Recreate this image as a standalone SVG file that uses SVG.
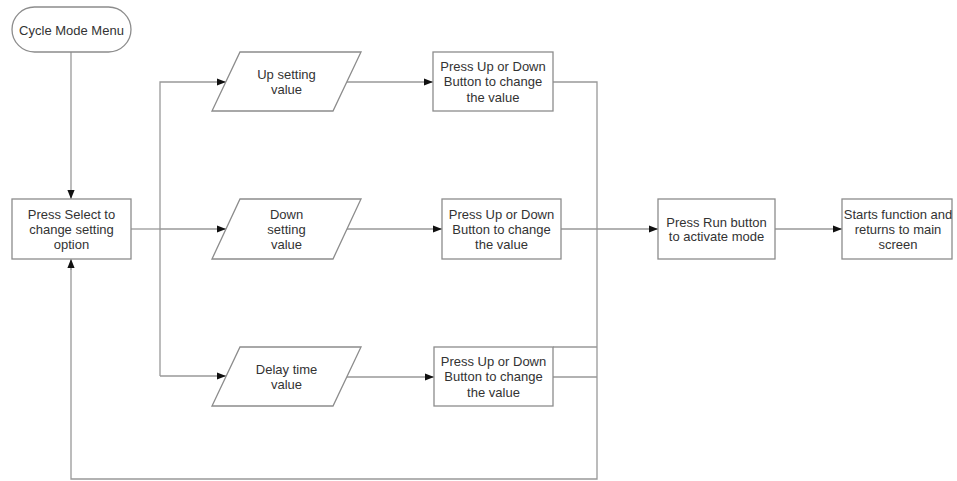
<svg xmlns="http://www.w3.org/2000/svg" width="957" height="481" viewBox="0 0 957 481">
<defs>
<style>
.shape{fill:#ffffff;stroke:#8c8c8c;stroke-width:1.3}
.conn{fill:none;stroke:#999999;stroke-width:1.3}
.arr{marker-end:url(#ah)}
text{font-family:"Liberation Sans",Arial,sans-serif;font-size:13px;fill:#333333;text-anchor:middle;dominant-baseline:central}
</style>
<marker id="ah" viewBox="0 0 10 10" refX="10" refY="5" markerWidth="9" markerHeight="9" markerUnits="userSpaceOnUse" orient="auto">
<path d="M0,1 L10,5 L0,9 z" fill="#111111"/>
</marker>
</defs>
<rect width="957" height="481" fill="#ffffff"/>
<g id="connectors">
<path class="conn arr" d="M71,52 V199"/>
<path class="conn" d="M131,229 H160"/>
<path class="conn arr" d="M160,229 H226"/>
<path class="conn arr" d="M160,376 V82 H226"/>
<path class="conn arr" d="M160,376 H226"/>
<path class="conn arr" d="M347,82 H433"/>
<path class="conn arr" d="M347,229 H442"/>
<path class="conn arr" d="M347,377 H434"/>
<path class="conn" d="M553,82 H597 V479 H71 V268"/>
<path class="conn arr" d="M71,270 V259"/>
<path class="conn arr" d="M561,229 H658"/>
<path class="conn" d="M553,347 H597"/>
<path class="conn" d="M553,377 H597"/>
<path class="conn arr" d="M775,229 H842"/>
</g>
<g id="n-cycle">
<rect class="shape" x="12" y="7" width="119" height="45" rx="22.5"/>
<text x="71.5" y="30">Cycle Mode Menu</text>
</g>
<g id="n-select">
<rect class="shape" x="12" y="199" width="119" height="60"/>
<text x="71.5" y="214">Press Select to</text>
<text x="71.5" y="229">change setting</text>
<text x="71.5" y="244">option</text>
</g>
<g id="n-up">
<polygon class="shape" points="240,52 361,52 333,111 212,111"/>
<text x="286.5" y="74">Up setting</text>
<text x="286.5" y="89">value</text>
</g>
<g id="n-down">
<polygon class="shape" points="240,199 361,199 333,259 212,259"/>
<text x="286.5" y="214">Down</text>
<text x="286.5" y="229">setting</text>
<text x="286.5" y="244">value</text>
</g>
<g id="n-delay">
<polygon class="shape" points="240,347 361,347 333,406 212,406"/>
<text x="286.5" y="369">Delay time</text>
<text x="286.5" y="384">value</text>
</g>
<g id="n-press1">
<rect class="shape" x="433" y="52" width="120" height="59"/>
<text x="493" y="66">Press Up or Down</text>
<text x="493" y="81.5">Button to change</text>
<text x="493" y="97">the value</text>
</g>
<g id="n-press2">
<rect class="shape" x="442" y="199" width="119" height="60"/>
<text x="501.5" y="214">Press Up or Down</text>
<text x="501.5" y="229">Button to change</text>
<text x="501.5" y="244">the value</text>
</g>
<g id="n-press3">
<rect class="shape" x="434" y="347" width="119" height="59"/>
<text x="493.5" y="361">Press Up or Down</text>
<text x="493.5" y="376.5">Button to change</text>
<text x="493.5" y="392">the value</text>
</g>
<g id="n-run">
<rect class="shape" x="658" y="199" width="117" height="60"/>
<text x="716.5" y="222">Press Run button</text>
<text x="716.5" y="236.5">to activate mode</text>
</g>
<g id="n-start">
<rect class="shape" x="842" y="199" width="110" height="60"/>
<text x="898" y="214">Starts function and</text>
<text x="898" y="229">returns to main</text>
<text x="898" y="244">screen</text>
</g>
</svg>
